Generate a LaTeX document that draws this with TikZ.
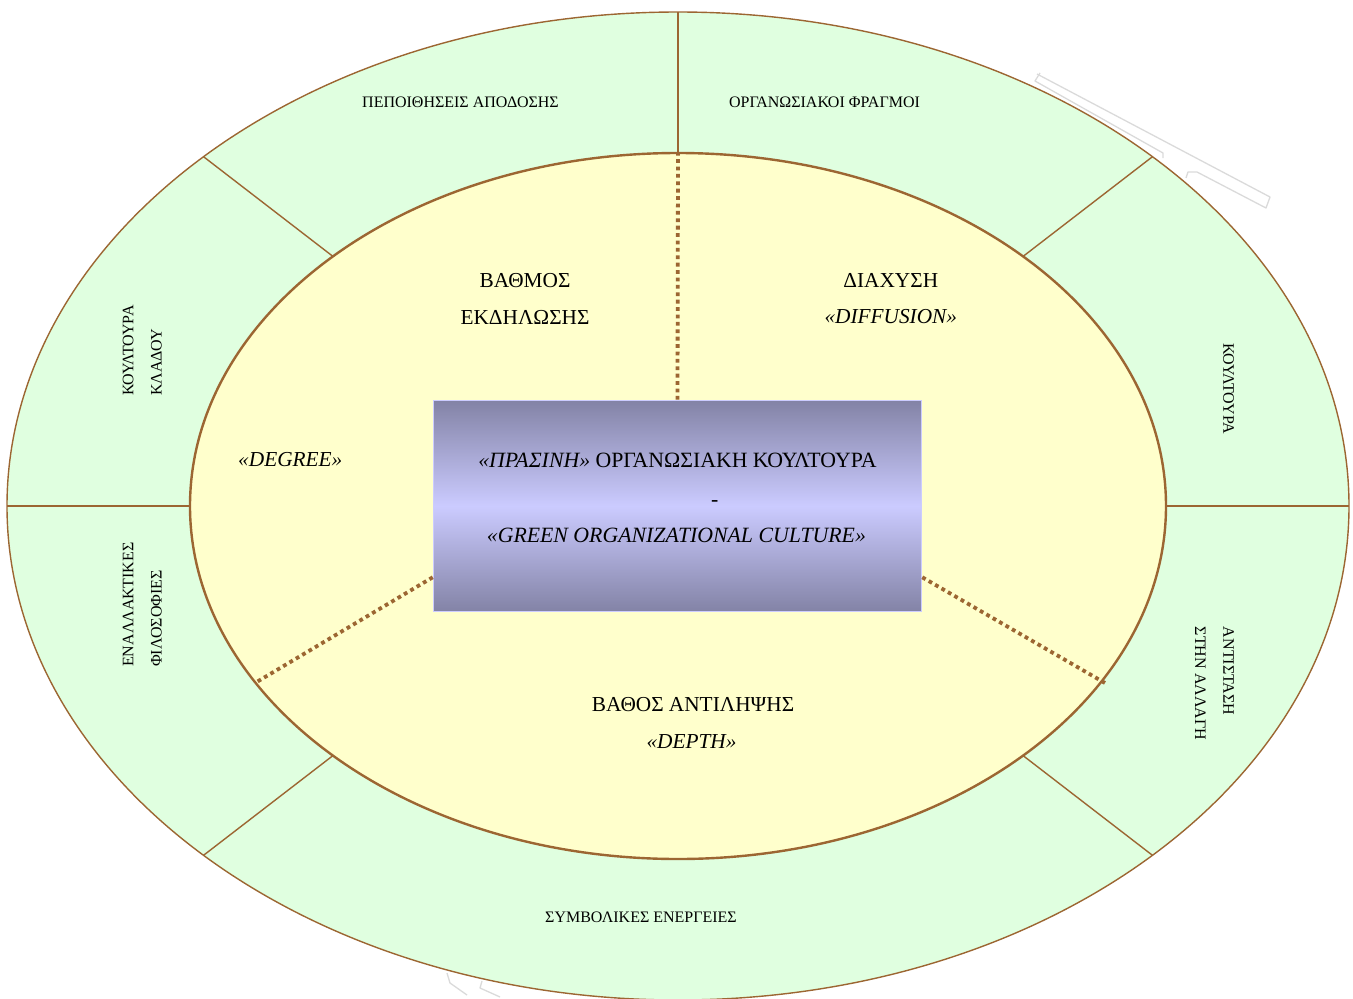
\documentclass[tikz,border=0pt]{standalone}
\usepackage{fontspec}
\setmainfont{Liberation Serif}
\definecolor{ringfill}{HTML}{E0FFE0}
\definecolor{corefill}{HTML}{FFFFCC}
\definecolor{rim}{HTML}{9C6632}
\definecolor{boxedge}{HTML}{CCCCFF}
\definecolor{boxdark}{HTML}{8383A6}
\definecolor{boxlight}{HTML}{CBCBFF}
\definecolor{ghost}{HTML}{DADADA}
\begin{document}
\begin{tikzpicture}[x=1pt,y=-1pt,
  divider/.style={draw=rim, line width=1.4pt},
  spoke/.style={draw=rim, line width=3.8pt, dash pattern=on 3.8pt off 3.6pt},
  ringtext/.style={font=\fontsize{16}{19}\selectfont, inner sep=0pt},
  coretext/.style={font=\fontsize{21.3}{25}\selectfont, inner sep=0pt},
  boxtext/.style={font=\fontsize{21.8}{26}\selectfont, inner sep=0pt},
  ghostline/.style={draw=ghost, line width=1.3pt, line join=round}]
\useasboundingbox (0,0) rectangle (1353,999);

% faint outline marks behind the rings
\draw[ghostline] (1037,74) -- (1270,197) -- (1266,208) -- (1197,172) -- (1188,172) -- (1186,178);
\draw[ghostline] (1040,73) -- (1035,81) -- (1163,153) -- (1163,158);
\draw[ghostline] (447,973) -- (450,983) -- (467,995);
\draw[ghostline] (482,981) -- (480,988) -- (500,997);

% centre of both ellipses
\coordinate (c) at (678,506);

% outer ring
\path[fill=ringfill, draw=rim, line width=1.4pt] (c) ellipse [x radius=671pt, y radius=494pt];

% points where the ring dividers meet both ellipses
\foreach \a in {0,45,90,135,180,225,270,315}{
  \path ([shift={(\a:671pt and 494pt)}]c) coordinate (o\a);
  \path ([shift={(\a:488pt and 353pt)}]c) coordinate (i\a);
}
\foreach \a in {0,45,90,135,180,225,315}{
  \draw[divider] (i\a) -- (o\a);
}

% inner core
\path[fill=corefill, draw=rim, line width=2.4pt] (c) ellipse [x radius=488pt, y radius=353pt];

% central box
\node[draw=boxedge, line width=1.6pt, minimum width=488pt, minimum height=211pt,
      inner sep=0pt, top color=boxdark, bottom color=boxdark, middle color=boxlight]
      (core) at (677.5,506) {};

% dotted spokes from the box to the core rim
\coordinate (sl) at (255,683);
\coordinate (sr) at (1105,683);
\draw[spoke] (core.north) -- (i90);
\draw[spoke] ([yshift=35pt]core.south west) -- (sl);
\draw[spoke] ([yshift=35pt]core.south east) -- (sr);

% box text
\node[boxtext, anchor=base] (t1) at (677.5,467.3) {\textit{«ΠΡΑΣΙΝΗ»} ΟΡΓΑΝΩΣΙΑΚΗ ΚΟΥΛΤΟΥΡΑ};
\node[boxtext, anchor=base] (t2) at (714.7,506) {-};
\node[boxtext, anchor=base] (t3) at (676.4,542.7) {\textit{«GREEN ORGANIZATIONAL CULTURE»}};

% core labels
\node[coretext, anchor=base] (deg1) at (525,287.3) {ΒΑΘΜΟΣ};
\node[coretext, anchor=base] (deg2) at (525,324) {ΕΚΔΗΛΩΣΗΣ};
\node[coretext, anchor=base] (deg3) at (290.3,466) {\textit{«DEGREE»}};
\node[coretext, anchor=base] (dif1) at (890.8,287.3) {ΔΙΑΧΥΣΗ};
\node[coretext, anchor=base] (dif2) at (890.8,323.3) {\textit{«DIFFUSION»}};
\node[coretext, anchor=base] (dep1) at (693,711.7) {ΒΑΘΟΣ ΑΝΤΙΛΗΨΗΣ};
\node[coretext, anchor=base] (dep2) at (691.5,748.3) {\textit{«DEPTH»}};

% ring labels
\node[ringtext, anchor=base] (r1) at (460.5,107) {ΠΕΠΟΙΘΗΣΕΙΣ ΑΠΟΔΟΣΗΣ};
\node[ringtext, anchor=base] (r2) at (824.5,107) {ΟΡΓΑΝΩΣΙΑΚΟΙ ΦΡΑΓΜΟΙ};
\node[ringtext, anchor=base] (r3) at (641,922) {ΣΥΜΒΟΛΙΚΕΣ ΕΝΕΡΓΕΙΕΣ};
\node[ringtext, anchor=base west, rotate=90] (r4a) at (133.3,396) {ΚΟΥΛΤΟΥΡΑ};
\node[ringtext, anchor=base west, rotate=90] (r4b) at (161.7,396) {ΚΛΑΔΟΥ};
\node[ringtext, anchor=base west, rotate=90] (r5a) at (133.3,667) {ΕΝΑΛΛΑΚΤΙΚΕΣ};
\node[ringtext, anchor=base west, rotate=90] (r5b) at (161.7,667) {ΦΙΛΟΣΟΦΙΕΣ};
\node[ringtext, anchor=base west, rotate=-90] (r6) at (1223.3,343.3) {ΚΟΥΛΤΟΥΡΑ};
\node[ringtext, anchor=base west, rotate=-90] (r7a) at (1223.3,626.7) {ΑΝΤΙΣΤΑΣΗ};
\node[ringtext, anchor=base west, rotate=-90] (r7b) at (1195,626.7) {ΣΤΗΝ ΑΛΛΑΓΗ};
\end{tikzpicture}
\end{document}
